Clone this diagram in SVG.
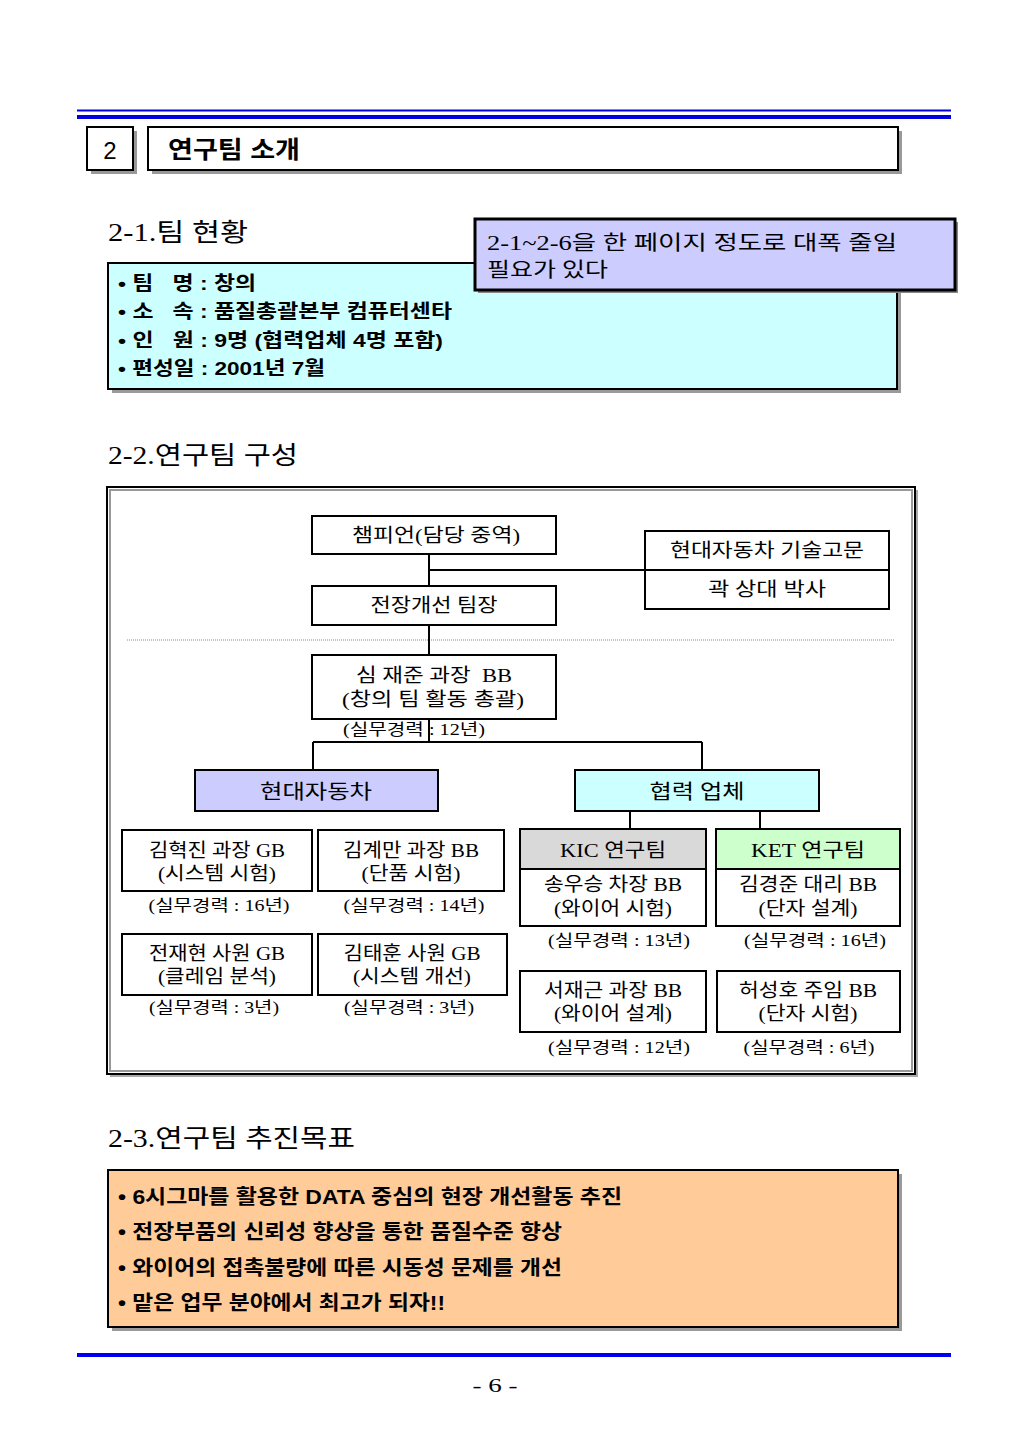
<svg xmlns="http://www.w3.org/2000/svg" width="1024" height="1453" viewBox="0 0 1024 1453">
<style>
.sr{font-family:"Liberation Serif","Noto Sans CJK KR",serif;fill:#000}
.sb{font-family:"Liberation Sans","Noto Sans CJK KR",sans-serif;font-weight:bold;fill:#000}
.h{font-size:25px}
.n{font-size:19px;text-anchor:middle}
.e{font-size:16px;text-anchor:middle}
.bx{stroke:#000;stroke-width:2}
.sh{fill:#999}
.ln{stroke:#000;stroke-width:2;fill:none}
</style>
<rect width="1024" height="1453" fill="#fff"/>
<g id="header">
<line x1="77" y1="110.5" x2="951" y2="110.5" stroke="#0000E0" stroke-width="2"/>
<line x1="77" y1="117" x2="951" y2="117" stroke="#0000E0" stroke-width="4"/>
<rect x="91" y="131" width="46" height="43" class="sh"/>
<rect x="87" y="127" width="46" height="43" fill="#fff" class="bx"/>
<text x="110" y="159" font-family="Liberation Sans, sans-serif" font-size="24" text-anchor="middle">2</text>
<rect x="152" y="131" width="750" height="43" class="sh"/>
<rect x="148" y="127" width="750" height="43" fill="#fff" class="bx"/>
<text x="168" y="158" class="sb" font-size="24" textLength="132" lengthAdjust="spacingAndGlyphs">연구팀 소개</text>
</g>
<g id="sec21">
<text x="108" y="241" class="sr h" textLength="140" lengthAdjust="spacingAndGlyphs">2-1.팀 현황</text>
<rect x="112" y="267" width="789" height="126" class="sh"/>
<rect x="108" y="263" width="789" height="126" fill="#CCFFFF" class="bx"/>
<g class="sb" font-size="19">
<text x="118" y="290" textLength="138" lengthAdjust="spacingAndGlyphs">• 팀&#160;&#160;&#160;명 : 창의</text>
<text x="118" y="318" textLength="334" lengthAdjust="spacingAndGlyphs">• 소&#160;&#160;&#160;속 : 품질총괄본부 컴퓨터센타</text>
<text x="118" y="347" textLength="325" lengthAdjust="spacingAndGlyphs">• 인&#160;&#160;&#160;원 : 9명 (협력업체 4명 포함)</text>
<text x="118" y="375" textLength="207" lengthAdjust="spacingAndGlyphs">• 편성일 : 2001년 7월</text>
</g>
</g>
<g id="note">
<rect x="478" y="222" width="480" height="71" fill="#888"/>
<rect x="475" y="219" width="480" height="71" fill="#CCCCFF" stroke="#000" stroke-width="3"/>
<text x="487" y="250" class="sr" font-size="20" textLength="410" lengthAdjust="spacingAndGlyphs">2-1~2-6을 한 페이지 정도로 대폭 줄일</text>
<text x="487" y="277" class="sr" font-size="20" textLength="121" lengthAdjust="spacingAndGlyphs">필요가 있다</text>
</g>
<text x="108" y="464" class="sr h" textLength="190" lengthAdjust="spacingAndGlyphs">2-2.연구팀 구성</text>
<g id="frame">
<rect x="110" y="490" width="808" height="587" fill="#aaa"/>
<rect x="107" y="487" width="808" height="587" fill="#fff" stroke="#000" stroke-width="2"/>
<rect x="110" y="490" width="802" height="581" fill="none" stroke="#999" stroke-width="2"/>
<line x1="127" y1="640" x2="895" y2="640" stroke="#888" stroke-width="1" stroke-dasharray="1,1"/>
</g>
<g id="connectors">
<path class="ln" d="M429 554V586M429 570H645M429 625V655M429 719V742M313 742H702M313 742V770M702 742V770M630 811V829M760 811V829"/>
</g>
<g id="champion"><rect x="312" y="516" width="244" height="38" fill="#fff" class="bx"/><text x="436" y="542" class="sr n" textLength="168" lengthAdjust="spacingAndGlyphs">챔피언(담당 중역)</text></g>
<g id="advisor"><rect x="645" y="531" width="244" height="78" fill="#fff" class="bx"/><line x1="645" y1="570" x2="889" y2="570" class="ln"/><text x="767" y="557" class="sr n" textLength="194" lengthAdjust="spacingAndGlyphs">현대자동차 기술고문</text><text x="767" y="596" class="sr n" textLength="118" lengthAdjust="spacingAndGlyphs">곽 상대 박사</text></g>
<g id="leader"><rect x="312" y="586" width="244" height="39" fill="#fff" class="bx"/><text x="434" y="612" class="sr n" textLength="127" lengthAdjust="spacingAndGlyphs">전장개선 팀장</text></g>
<g id="sim"><rect x="312" y="655" width="244" height="64" fill="#fff" class="bx"/><text x="434" y="682" class="sr n" textLength="156" lengthAdjust="spacingAndGlyphs">심 재준 과장&#160;&#160;BB</text><text x="433" y="706" class="sr n" textLength="182" lengthAdjust="spacingAndGlyphs">(창의 팀 활동 총괄)</text><text x="414" y="735" class="sr e" textLength="142" lengthAdjust="spacingAndGlyphs">(실무경력 : 12년)</text></g>
<g id="hyundai"><rect x="195" y="770" width="243" height="41" fill="#CCCCFF" class="bx"/><text x="316" y="799" class="sr" font-size="20" text-anchor="middle" textLength="112" lengthAdjust="spacingAndGlyphs">현대자동차</text></g>
<g id="partner"><rect x="575" y="770" width="244" height="41" fill="#CCFFFF" class="bx"/><text x="697" y="799" class="sr" font-size="20" text-anchor="middle" textLength="95" lengthAdjust="spacingAndGlyphs">협력 업체</text></g>
<g id="p1"><rect x="122" y="830" width="190" height="61" fill="#fff" class="bx"/><text x="217" y="857" class="sr n" textLength="136" lengthAdjust="spacingAndGlyphs">김혁진 과장 GB</text><text x="217" y="880" class="sr n" textLength="118" lengthAdjust="spacingAndGlyphs">(시스템 시험)</text><text x="219" y="911" class="sr e" textLength="141" lengthAdjust="spacingAndGlyphs">(실무경력 : 16년)</text></g>
<g id="p2"><rect x="318" y="830" width="186" height="61" fill="#fff" class="bx"/><text x="411" y="857" class="sr n" textLength="136" lengthAdjust="spacingAndGlyphs">김계만 과장 BB</text><text x="411" y="880" class="sr n" textLength="99" lengthAdjust="spacingAndGlyphs">(단품 시험)</text><text x="414" y="911" class="sr e" textLength="141" lengthAdjust="spacingAndGlyphs">(실무경력 : 14년)</text></g>
<g id="p3"><rect x="122" y="934" width="190" height="61" fill="#fff" class="bx"/><text x="217" y="960" class="sr n" textLength="136" lengthAdjust="spacingAndGlyphs">전재현 사원 GB</text><text x="217" y="983" class="sr n" textLength="118" lengthAdjust="spacingAndGlyphs">(클레임 분석)</text><text x="214" y="1013" class="sr e" textLength="130" lengthAdjust="spacingAndGlyphs">(실무경력 : 3년)</text></g>
<g id="p4"><rect x="318" y="934" width="189" height="61" fill="#fff" class="bx"/><text x="412" y="960" class="sr n" textLength="137" lengthAdjust="spacingAndGlyphs">김태훈 사원 GB</text><text x="412" y="983" class="sr n" textLength="118" lengthAdjust="spacingAndGlyphs">(시스템 개선)</text><text x="409" y="1013" class="sr e" textLength="130" lengthAdjust="spacingAndGlyphs">(실무경력 : 3년)</text></g>
<g id="kic"><rect x="520" y="829" width="186" height="40" fill="#D9D9D9" class="bx"/><text x="613" y="857" class="sr n" textLength="106" lengthAdjust="spacingAndGlyphs">KIC 연구팀</text></g>
<g id="ket"><rect x="716" y="829" width="184" height="40" fill="#CCFFCC" class="bx"/><text x="808" y="857" class="sr n" textLength="114" lengthAdjust="spacingAndGlyphs">KET 연구팀</text></g>
<g id="p5"><rect x="520" y="869" width="186" height="57" fill="#fff" class="bx"/><text x="613" y="891" class="sr n" textLength="138" lengthAdjust="spacingAndGlyphs">송우승 차장 BB</text><text x="613" y="915" class="sr n" textLength="118" lengthAdjust="spacingAndGlyphs">(와이어 시험)</text><text x="619" y="946" class="sr e" textLength="142" lengthAdjust="spacingAndGlyphs">(실무경력 : 13년)</text></g>
<g id="p6"><rect x="716" y="869" width="184" height="57" fill="#fff" class="bx"/><text x="808" y="891" class="sr n" textLength="138" lengthAdjust="spacingAndGlyphs">김경준 대리 BB</text><text x="808" y="915" class="sr n" textLength="99" lengthAdjust="spacingAndGlyphs">(단자 설계)</text><text x="815" y="946" class="sr e" textLength="142" lengthAdjust="spacingAndGlyphs">(실무경력 : 16년)</text></g>
<g id="p7"><rect x="520" y="971" width="186" height="61" fill="#fff" class="bx"/><text x="613" y="997" class="sr n" textLength="138" lengthAdjust="spacingAndGlyphs">서재근 과장 BB</text><text x="613" y="1020" class="sr n" textLength="118" lengthAdjust="spacingAndGlyphs">(와이어 설계)</text><text x="619" y="1053" class="sr e" textLength="142" lengthAdjust="spacingAndGlyphs">(실무경력 : 12년)</text></g>
<g id="p8"><rect x="717" y="971" width="183" height="61" fill="#fff" class="bx"/><text x="808" y="997" class="sr n" textLength="138" lengthAdjust="spacingAndGlyphs">허성호 주임 BB</text><text x="808" y="1020" class="sr n" textLength="99" lengthAdjust="spacingAndGlyphs">(단자 시험)</text><text x="809" y="1053" class="sr e" textLength="131" lengthAdjust="spacingAndGlyphs">(실무경력 : 6년)</text></g>
<text x="108" y="1147" class="sr h" textLength="247" lengthAdjust="spacingAndGlyphs">2-3.연구팀 추진목표</text>
<g id="goals">
<rect x="112" y="1174" width="790" height="157" class="sh"/>
<rect x="108" y="1170" width="790" height="157" fill="#FFCC99" class="bx"/>
<g class="sb" font-size="20">
<text x="118" y="1204" textLength="504" lengthAdjust="spacingAndGlyphs">• 6시그마를 활용한 DATA 중심의 현장 개선활동 추진</text>
<text x="118" y="1239" textLength="444" lengthAdjust="spacingAndGlyphs">• 전장부품의 신뢰성 향상을 통한 품질수준 향상</text>
<text x="118" y="1275" textLength="444" lengthAdjust="spacingAndGlyphs">• 와이어의 접촉불량에 따른 시동성 문제를 개선</text>
<text x="118" y="1310" textLength="327" lengthAdjust="spacingAndGlyphs">• 맡은 업무 분야에서 최고가 되자!!</text>
</g>
</g>
<g id="footer">
<line x1="77" y1="1355" x2="951" y2="1355" stroke="#0000F0" stroke-width="4"/>
<text x="495" y="1392" class="sr" font-size="19" text-anchor="middle" textLength="45" lengthAdjust="spacingAndGlyphs">- 6 -</text>
</g>
</svg>
